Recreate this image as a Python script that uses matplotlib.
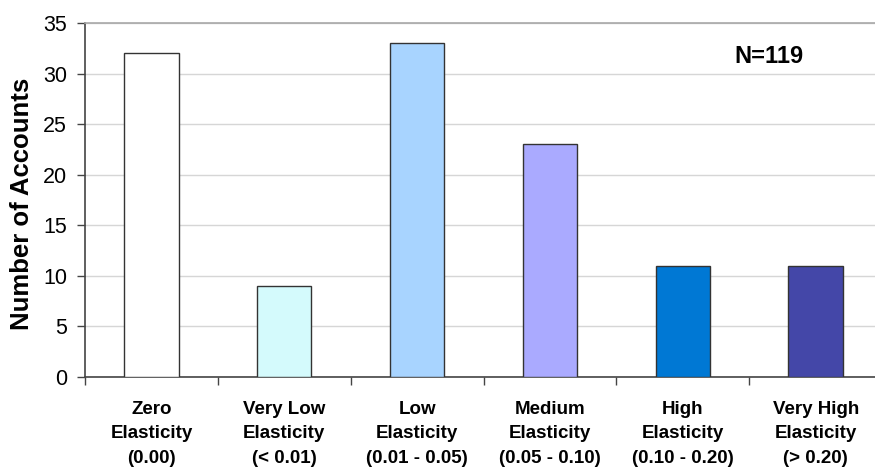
import numpy as np
import matplotlib.pyplot as plt

# kategorier och värden
categories = ["Zero\nElasticity\n(0.00)", "Very Low\nElasticity\n(< 0.01)",
              "Low\nElasticity\n(0.01 - 0.05)", "Medium\nElasticity\n(0.05 - 0.10)",
              "High\nElasticity\n(0.10 - 0.20)", "Very High\nElasticity\n(> 0.20)"]
accounts = [32, 9, 33, 23, 11, 11]
bar_colors = ["#FFFFFF", "#D4FAFC", "#A8D4FF", "#AAAAFF", "#0078D4", "#4447A8"]
y_ticks = [0, 5, 10, 15, 20, 25, 30, 35]

plt.rcParams['font.family'] = ['Liberation Sans', 'DejaVu Sans']

fig = plt.figure(figsize=(8.75, 4.72), dpi=100)
ax = fig.add_axes([0.0971, 0.2013, 0.911, 0.75])

x = np.arange(len(accounts))
ax.bar(x, accounts, width=0.41, color=bar_colors, edgecolor="#333333", linewidth=1.0, zorder=3)

ax.set_xlim(-0.5, len(accounts) - 0.5)
ax.set_ylim(0, 35)
ax.set_yticks(y_ticks)
ax.tick_params(axis='y', labelsize=15.5, length=6, width=1, color="#444444", pad=7)
ax.yaxis.grid(True, color="#D6D6D6", linewidth=1, zorder=0)

# kategorinamn mitt under staplarna, tickar mellan dem
ax.set_xticks(np.arange(len(accounts) + 1) - 0.5)
ax.set_xticklabels([])
ax.tick_params(axis='x', length=6, width=1, color="#444444")
for i, lab in enumerate(categories):
    ax.text(i, -2.35, lab, ha='center', va='top', fontsize=13.5, fontweight='bold',
            linespacing=1.58)

ax.spines["right"].set_visible(False)
ax.spines["top"].set_color("#A8A8A8")
ax.spines["top"].set_linewidth(1.2)
for s in ["left", "bottom"]:
    ax.spines[s].set_color("#444444")
    ax.spines[s].set_linewidth(1.2)

ax.set_ylabel("Number of Accounts", fontsize=18.5, fontweight='bold')
ax.yaxis.set_label_coords(-0.064, 0.49)
ax.text(4.65, 31.7, "N=119", fontsize=17, fontweight='bold', ha='center', va='center')

fig.savefig("out.png", dpi=100)
